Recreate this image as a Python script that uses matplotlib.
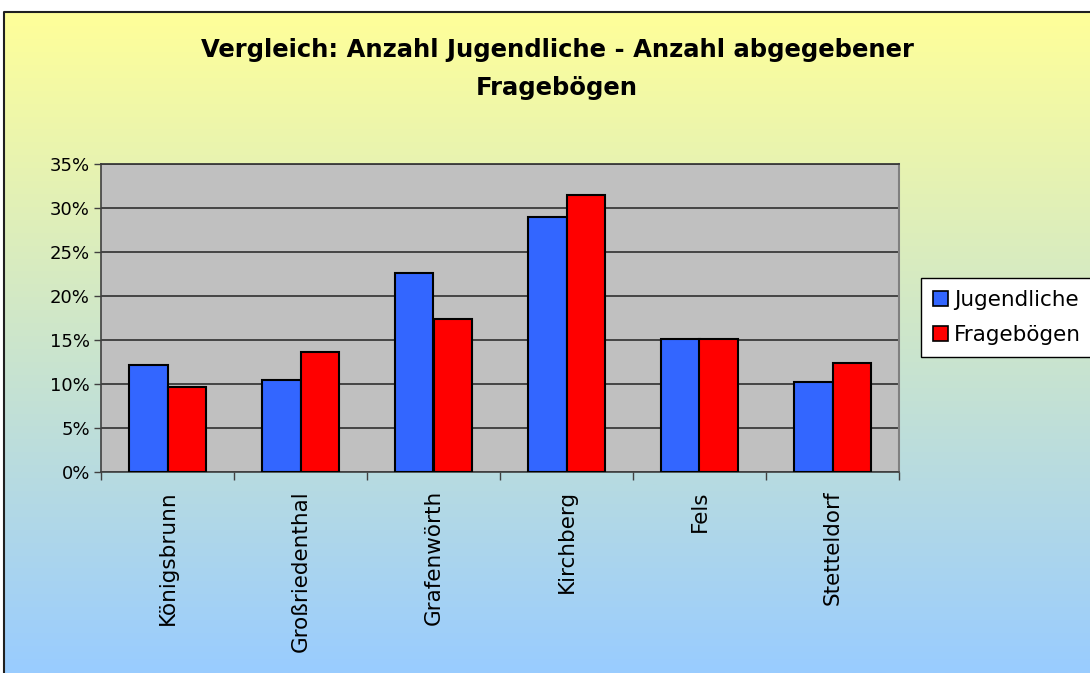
import numpy as np
import matplotlib.pyplot as plt
from matplotlib.colors import LinearSegmentedColormap
from matplotlib.patches import Patch

# Daten (Anteile in %)
orte = ['Königsbrunn', 'Großriedenthal', 'Grafenwörth', 'Kirchberg', 'Fels', 'Stetteldorf']
jugendliche = [12.2, 10.4, 22.6, 29.0, 15.1, 10.2]
frageboegen = [9.7, 13.6, 17.4, 31.5, 15.1, 12.4]
yticks = [0, 5, 10, 15, 20, 25, 30, 35]

W, H = 1090, 673
plt.rcParams['font.family'] = ['DejaVu Sans']

fig = plt.figure(figsize=(W / 100, H / 100), dpi=100)

# Hintergrund mit Verlauf gelb -> hellblau
bg = fig.add_axes([0, 0, 1, 1], zorder=-10)
cmap = LinearSegmentedColormap.from_list('bg', ['#FFFF99', '#99CCFF'])
grad = np.linspace(0, 1, 256).reshape(-1, 1)
bg.imshow(grad, aspect='auto', cmap=cmap, extent=[4 / W, 1, 0, 1 - 12 / H])
bg.plot([4 / W, 4 / W, 1], [0, 1 - 12 / H, 1 - 12 / H], color='#202020', lw=1.5)
bg.set_xlim(0, 1)
bg.set_ylim(0, 1)
bg.axis('off')

# Diagrammfläche
ax = fig.add_axes([101 / W, 1 - 472 / H, 798 / W, 308 / H])
ax.set_facecolor('#C0C0C0')

x = np.arange(len(orte))
width = 0.293
ax.bar(x - width / 2, jugendliche, width, color='#3366FF', edgecolor='black', lw=1.5,
       label='Jugendliche', zorder=3)
ax.bar(x + width / 2, frageboegen, width, color='#FF0000', edgecolor='black', lw=1.5,
       label='Fragebögen', zorder=3)

ax.set_xlim(-0.5, len(orte) - 0.5)
ax.set_ylim(0, 35)
ax.set_yticks(yticks)
ax.set_yticklabels([f'{v}%' for v in yticks], fontsize=13)
ax.yaxis.grid(True, color='#3a3a3a', lw=1.3, zorder=1)
ax.set_axisbelow(True)

ax.set_xticks(x)
ax.set_xticklabels(orte, rotation=90, fontsize=15.5, va='top')
ax.set_xticks(np.arange(-0.5, len(orte)), minor=True)
ax.tick_params(axis='x', which='major', length=0, pad=13)
ax.tick_params(axis='x', which='minor', length=6, width=1, color='#404040')
ax.tick_params(axis='y', length=5, width=1, color='#404040', pad=3)

for side in ['left', 'bottom']:
    ax.spines[side].set_color('#404040')
    ax.spines[side].set_linewidth(1.2)
ax.spines['right'].set_color('#808080')
ax.spines['right'].set_linewidth(1.5)
ax.spines['top'].set_color('#3a3a3a')
ax.spines['top'].set_linewidth(1.3)

# Titel
fig.text(557 / W, 1 - 50 / H, 'Vergleich: Anzahl Jugendliche - Anzahl abgegebener',
         ha='center', va='center', fontsize=17.5, fontweight='bold')
fig.text(557 / W, 1 - 88 / H, 'Fragebögen',
         ha='center', va='center', fontsize=17.5, fontweight='bold')

# Legende
handles = [Patch(facecolor='#3366FF', edgecolor='black', lw=1.2),
           Patch(facecolor='#FF0000', edgecolor='black', lw=1.2)]
leg = fig.legend(handles, ['Jugendliche', 'Fragebögen'], loc='upper left',
                 bbox_to_anchor=(921 / W, 1 - 278 / H), borderaxespad=0, fontsize=15.5,
                 handlelength=0.7, handleheight=0.7, handletextpad=0.3,
                 labelspacing=0.7, borderpad=0.55, fancybox=False)
leg.get_frame().set_edgecolor('black')
leg.get_frame().set_linewidth(1.0)
leg.get_frame().set_facecolor('white')
leg.get_frame().set_alpha(1)

fig.savefig('out.png', dpi=100)
